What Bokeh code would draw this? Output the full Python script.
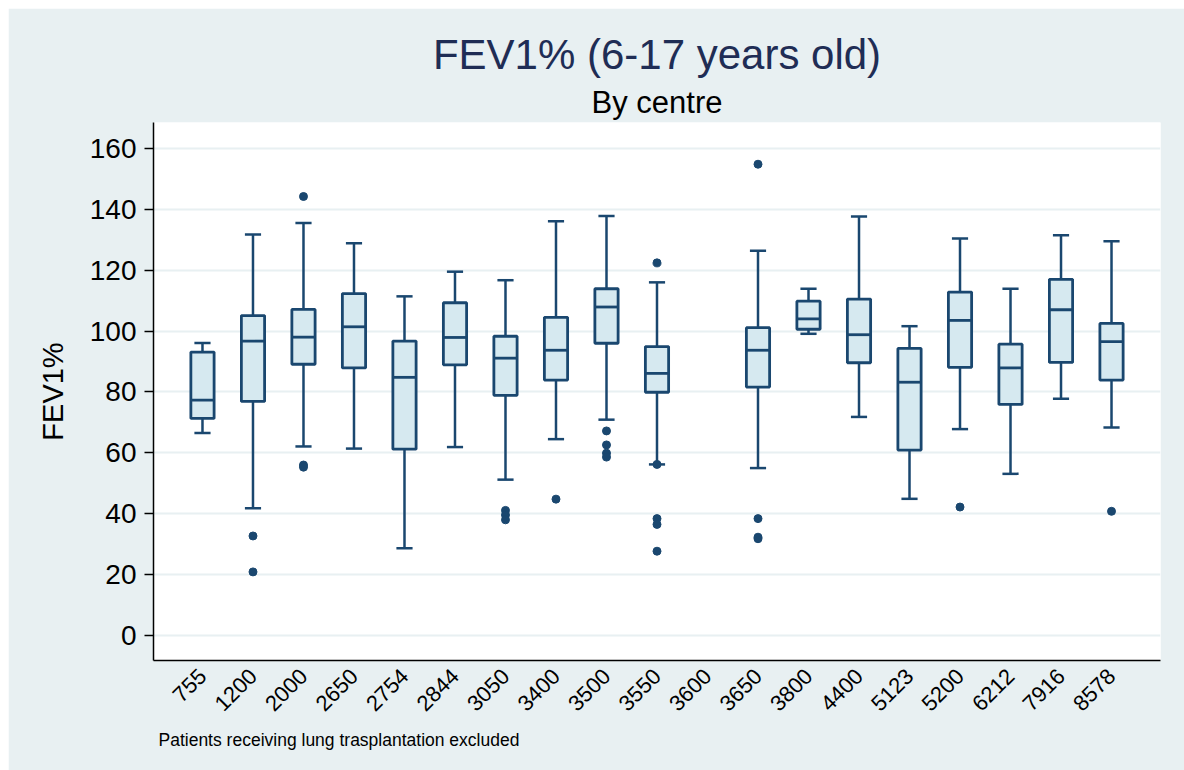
import math
from bokeh.plotting import figure
from bokeh.models import ColumnDataSource, FactorRange, Range1d, Title, FixedTicker
from bokeh.transform import dodge
from bokeh.embed import file_html
from bokeh.resources import INLINE

# ---------------- data ----------------
centres = ["755", "1200", "2000", "2650", "2754", "2844", "3050", "3400", "3500",
           "3550", "3600", "3650", "3800", "4400", "5123", "5200", "6212", "7916", "8578"]
whisk_hi = [96.1, 131.7, 135.5, 128.8, 111.4, 119.5, 116.7, 136.1, 137.8,
            116.0, None, 126.4, 113.9, 137.6, 101.6, 130.4, 113.9, 131.5, 129.5]
q3 = [93.1, 105.1, 107.1, 112.3, 96.7, 109.3, 98.3, 104.5, 113.9,
      94.9, None, 101.1, 109.8, 110.5, 94.3, 112.8, 95.7, 117.0, 102.5]
median = [77.3, 96.7, 98.0, 101.4, 84.8, 97.9, 91.1, 93.7, 107.9,
          86.1, None, 93.7, 104.0, 98.8, 83.2, 103.5, 87.9, 107.0, 96.5]
q1 = [71.3, 76.9, 89.1, 87.9, 61.2, 88.9, 78.9, 83.9, 96.0,
      79.9, None, 81.6, 100.6, 89.6, 60.9, 88.1, 75.9, 89.7, 83.9]
whisk_lo = [66.5, 41.8, 62.1, 61.4, 28.7, 61.9, 51.2, 64.5, 70.9,
            56.2, None, 55.0, 99.1, 71.8, 44.9, 67.8, 53.1, 77.8, 68.3]

outlier_centre = ["1200", "1200", "2000", "2000", "2000", "3050", "3050", "3050", "3400",
                  "3500", "3500", "3500", "3500", "3550", "3550", "3550", "3550", "3550",
                  "3650", "3650", "3650", "3650", "5200", "8578"]
outlier_value = [32.7, 20.9, 144.2, 56.0, 55.3, 41.1, 39.6, 38.0, 44.8,
                 67.2, 62.6, 59.9, 58.6, 122.4, 56.2, 38.4, 36.5, 27.7,
                 154.8, 38.4, 32.3, 31.8, 42.2, 40.8]

y_ticks = [0, 20, 40, 60, 80, 100, 120, 140, 160]

title_text = "FEV1% (6-17 years old)"
subtitle_text = "By centre"
ylabel_text = "FEV1%"
note_text = "Patients receiving lung trasplantation excluded"

# ---------------- styling ----------------
BG = "#E8F0F2"
GRID = "#E8F0F2"
NAVY = "#1A476F"
FILL = "#D6E9F0"
TITLE_C = "#1F2D55"
FONT = "Liberation Sans"

keep = [i for i in range(len(centres)) if median[i] is not None]
src = ColumnDataSource(dict(
    cat=[centres[i] for i in keep],
    hi=[whisk_hi[i] for i in keep],
    q3=[q3[i] for i in keep],
    med=[median[i] for i in keep],
    q1=[q1[i] for i in keep],
    lo=[whisk_lo[i] for i in keep],
))
out_src = ColumnDataSource(dict(cat=outlier_centre, val=outlier_value))

p = figure(
    width=1176, height=762,
    x_range=FactorRange(factors=centres, range_padding=0.47, range_padding_units="absolute"),
    y_range=Range1d(-8.2, 168.5),
    output_backend="svg", toolbar_location=None,
    background_fill_color="white", border_fill_color=BG,
    min_border_left=145, min_border_right=24, min_border_top=114, min_border_bottom=110,
    outline_line_color=None,
)
p.margin = (8, 0, 0, 8)
p.title = None

# titles (first added sits closest to frame)
p.add_layout(Title(text=subtitle_text, align="center", text_font=FONT, text_font_size="31px",
                   text_font_style="normal", text_color="black", standoff=6), "above")
p.add_layout(Title(text=title_text, align="center", text_font=FONT, text_font_size="42px",
                   text_font_style="normal", text_color=TITLE_C, standoff=4), "above")

# whiskers
p.segment(x0="cat", y0="q3", x1="cat", y1="hi", source=src, line_color=NAVY, line_width=2.5)
p.segment(x0="cat", y0="q1", x1="cat", y1="lo", source=src, line_color=NAVY, line_width=2.5)
p.segment(x0=dodge("cat", -0.16, range=p.x_range), y0="hi",
          x1=dodge("cat", 0.16, range=p.x_range), y1="hi", source=src, line_color=NAVY, line_width=2.5)
p.segment(x0=dodge("cat", -0.16, range=p.x_range), y0="lo",
          x1=dodge("cat", 0.16, range=p.x_range), y1="lo", source=src, line_color=NAVY, line_width=2.5)
# boxes
p.vbar(x="cat", top="q3", bottom="q1", width=0.46, source=src,
       fill_color=FILL, line_color=NAVY, line_width=2.8)
# medians
p.segment(x0=dodge("cat", -0.23, range=p.x_range), y0="med",
          x1=dodge("cat", 0.23, range=p.x_range), y1="med", source=src, line_color=NAVY, line_width=2.8)
# outliers
p.scatter(x="cat", y="val", source=out_src, size=8, fill_color=NAVY, line_color=NAVY)

# grid
p.xgrid.grid_line_color = None
p.ygrid.grid_line_color = GRID
p.ygrid.grid_line_width = 2
p.ygrid.ticker = FixedTicker(ticks=y_ticks)

# y axis
p.yaxis.ticker = FixedTicker(ticks=y_ticks)
p.yaxis.axis_label = ylabel_text
p.yaxis.axis_label_text_font = FONT
p.yaxis.axis_label_text_font_size = "29px"
p.yaxis.axis_label_text_font_style = "normal"
p.yaxis.axis_label_text_color = "black"
p.yaxis.axis_label_standoff = 18
p.yaxis.major_label_text_font = FONT
p.yaxis.major_label_text_font_size = "28px"
p.yaxis.major_label_text_color = "black"
p.yaxis.major_label_standoff = 8
p.yaxis.major_tick_out = 9
p.yaxis.major_tick_in = 0
p.yaxis.major_tick_line_width = 1.5
p.yaxis.minor_tick_line_color = None
p.yaxis.axis_line_color = "black"
p.yaxis.axis_line_width = 1.5

# x axis
p.xaxis.major_label_orientation = math.pi / 4
p.xaxis.major_label_text_font = FONT
p.xaxis.major_label_text_font_size = "22px"
p.xaxis.major_label_text_color = "black"
p.xaxis.major_label_standoff = 6
p.xaxis.major_tick_line_color = None
p.xaxis.minor_tick_line_color = None
p.xaxis.axis_line_color = "black"
p.xaxis.axis_line_width = 1.5

# footnote
p.add_layout(Title(text=note_text, align="left", text_font=FONT, text_font_size="17.5px",
                   text_font_style="normal", text_color="black", offset=5, standoff=14), "below")

open("out.html", "w").write(file_html(p, INLINE))
